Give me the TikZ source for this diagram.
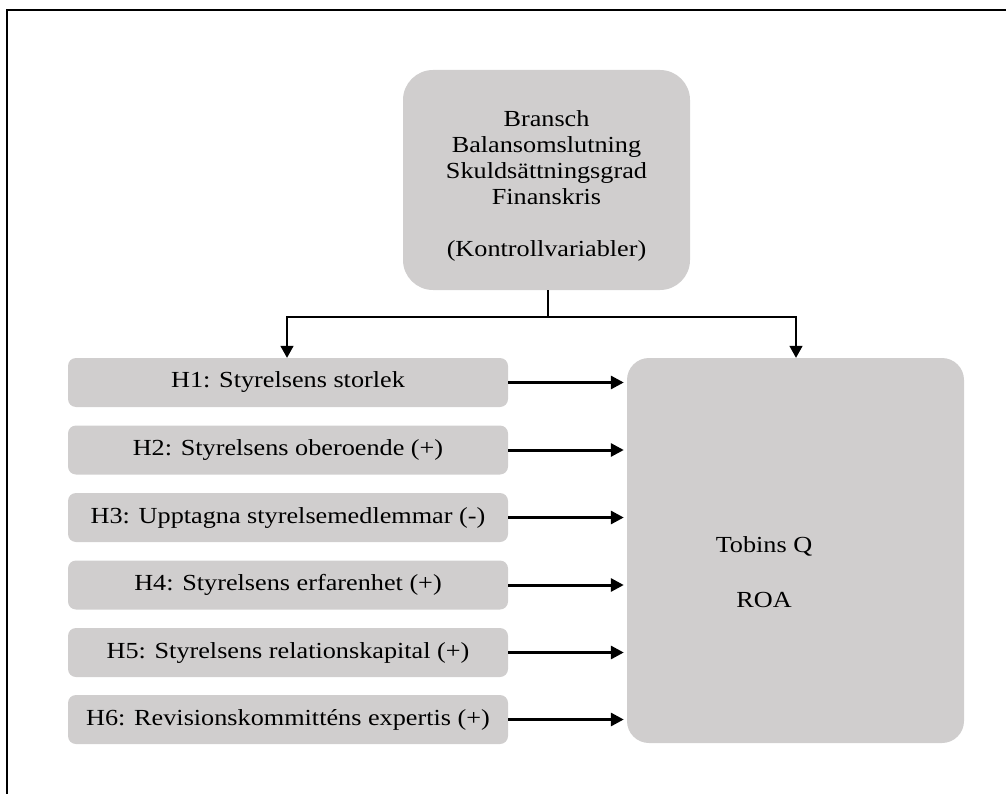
\documentclass[tikz,border=0pt]{standalone}
\usepackage{fontspec}
\setmainfont{Liberation Serif}[FakeStretch=1.14]
\usetikzlibrary{arrows.meta}
\definecolor{boxgray}{HTML}{D0CECE}
\begin{document}
\begin{tikzpicture}[x=1pt,y=-1pt,
  txt/.style={inner sep=0pt,font=\fontsize{23}{26}\selectfont},
  graybox/.style={txt,fill=boxgray,draw=none},
  hbox/.style={graybox,rounded corners=8pt,minimum width=440pt,minimum height=49pt},
  thinarrow/.style={line width=1.6pt,-{Triangle[length=12pt,width=13pt]}},
  thickarrow/.style={line width=3pt,-{Triangle[length=13pt,width=13pt]},shorten >=3pt}]
\useasboundingbox (0,0) rectangle (1006,794);
% frame
\draw[line width=2.5pt] (7,794) -- (7,10) -- (1006,10);
% control box
\node[graybox,rounded corners=30pt,minimum width=287pt,minimum height=220pt] (ctrl) at (546.5,180) {};
\node[txt,align=center] (ctrltext) at (546.5,186)
  {Bransch\\Balansomslutning\\Skuldsättningsgrad\\Finanskris\\[26pt](Kontrollvariabler)};
% hypothesis boxes
\node[hbox] (h1) at (288,382.5) {H1: Styrelsens storlek};
\node[hbox] (h2) at (288,450) {H2: Styrelsens oberoende (+)};
\node[hbox] (h3) at (288,517.5) {H3: Upptagna styrelsemedlemmar (-)};
\node[hbox] (h4) at (288,585) {H4: Styrelsens erfarenhet (+)};
\node[hbox] (h5) at (288,652.5) {H5: Styrelsens relationskapital (+)};
\node[hbox] (h6) at (288,719.5) {H6: Revisionskommitténs expertis (+)};
% outcome box
\node[graybox,rounded corners=22pt,minimum width=337pt,minimum height=385pt] (out) at (795.5,550.5) {};
\node[txt] (tq) at (764,546) {Tobins Q};
\node[txt] (roa) at (764,600) {ROA};
% connectors from control box
\coordinate (j) at (548,317);
\coordinate (jl) at (287,317);
\coordinate (jr) at (796,317);
\draw[line width=1.6pt] (ctrl.south -| j) -- (j);
\draw[thinarrow] (j) -- (jl) -- (jl |- h1.north);
\draw[thinarrow] (j) -- (jr) -- (jr |- out.north);
% hypothesis arrows
\foreach \h in {h1,h2,h3,h4,h5,h6}
  \draw[thickarrow] (\h.east) -- (\h.east -| out.west);
\end{tikzpicture}
\end{document}
